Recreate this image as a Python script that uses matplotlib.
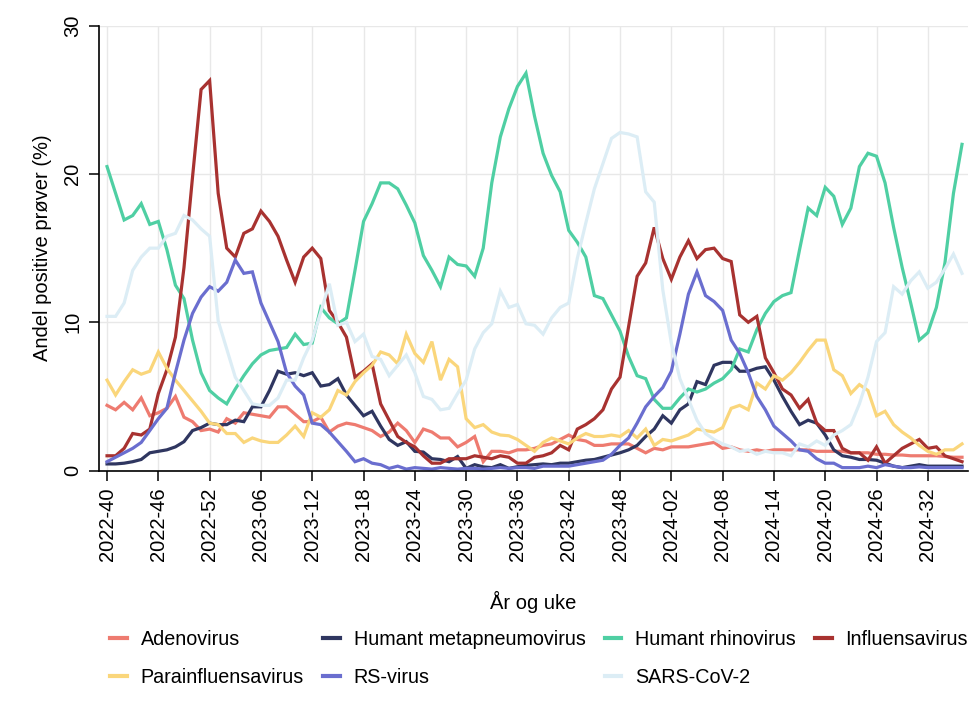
import numpy as np
import matplotlib
matplotlib.use("Agg")
import matplotlib.pyplot as plt
from matplotlib.lines import Line2D

plt.rcParams['font.family'] = ['Liberation Sans', 'DejaVu Sans']
plt.rcParams['font.size'] = 14.5

# ISO weeks 2022-40 .. 2024-36
weeks = ([f"2022-{w:02d}" for w in range(40, 53)]
         + [f"2023-{w:02d}" for w in range(1, 53)]
         + [f"2024-{w:02d}" for w in range(1, 37)])

tick_labels = ["2022-40", "2022-46", "2022-52", "2023-06", "2023-12", "2023-18",
               "2023-24", "2023-30", "2023-36", "2023-42", "2023-48", "2024-02",
               "2024-08", "2024-14", "2024-20", "2024-26", "2024-32"]

adenovirus = [4.4, 4.1, 4.6, 4.1, 4.9, 3.7, 3.9, 4.2, 5.0, 3.6,
              3.3, 2.7, 2.8, 2.6, 3.5, 3.2, 3.9, 3.8, 3.7, 3.6,
              4.3, 4.3, 3.8, 3.3, 3.3, 3.6, 2.6, 3.0, 3.2, 3.1,
              2.9, 2.7, 2.3, 2.6, 3.2, 2.7, 1.9, 2.8, 2.6, 2.2,
              2.2, 1.6, 1.9, 2.3, 0.6, 1.3, 1.3, 1.2, 1.4, 1.4,
              1.5, 1.7, 1.8, 2.1, 2.4, 2.1, 2.0, 1.7, 1.7, 1.8,
              1.8, 1.8, 1.5, 1.2, 1.5, 1.4, 1.6, 1.6, 1.6, 1.7,
              1.8, 1.9, 1.5, 1.6, 1.4, 1.3, 1.4, 1.3, 1.4, 1.4,
              1.4, 1.4, 1.4, 1.3, 1.3, 1.3, 1.3, 1.2, 1.2, 1.2,
              1.1, 1.1, 1.05, 1.05, 1.0, 1.0, 1.0, 1.0, 0.95, 0.9,
              0.9]

metapneumo = [0.45, 0.45, 0.5, 0.6, 0.75, 1.2, 1.3, 1.4, 1.6, 1.95,
              2.7, 2.9, 3.2, 3.1, 3.1, 3.4, 3.3, 4.3, 4.3, 5.4,
              6.7, 6.5, 6.6, 6.4, 6.6, 5.7, 5.8, 6.2, 5.1, 4.4,
              3.7, 4.0, 3.0, 2.1, 1.7, 1.95, 1.3, 1.25, 0.8, 0.75,
              0.6, 0.95, 0.15, 0.4, 0.25, 0.2, 0.4, 0.15, 0.26, 0.35,
              0.4, 0.45, 0.4, 0.5, 0.5, 0.6, 0.7, 0.75, 0.9, 1.05,
              1.2, 1.4, 1.7, 2.3, 2.8, 3.7, 3.2, 4.1, 4.5, 6.0,
              5.8, 7.1, 7.3, 7.3, 6.7, 6.7, 6.9, 7.0, 6.1, 5.0,
              4.0, 3.1, 3.4, 3.2, 2.4, 1.4, 1.0, 0.9, 0.75, 0.75,
              0.7, 0.5, 0.3, 0.2, 0.3, 0.4, 0.3, 0.3, 0.3, 0.3,
              0.3]

rhinovirus = [20.5, 18.7, 16.9, 17.2, 18.0, 16.6, 16.8, 14.9, 12.5, 11.6,
              8.8, 6.6, 5.4, 4.9, 4.5, 5.5, 6.4, 7.2, 7.8, 8.1,
              8.2, 8.3, 9.2, 8.5, 8.6, 11.0, 10.3, 9.9, 10.3, 13.5,
              16.8, 18.0, 19.4, 19.4, 19.0, 17.9, 16.7, 14.5, 13.5, 12.4,
              14.4, 13.9, 13.8, 13.1, 15.0, 19.4, 22.5, 24.4, 25.9, 26.8,
              23.9, 21.4, 19.9, 18.8, 16.2, 15.4, 14.4, 11.8, 11.6, 10.5,
              9.4, 7.7, 6.4, 6.2, 4.8, 4.2, 4.2, 4.9, 5.5, 5.3,
              5.5, 5.9, 6.2, 6.8, 8.2, 8.0, 9.5, 10.6, 11.4, 11.8,
              12.0, 14.9, 17.7, 17.2, 19.1, 18.5, 16.6, 17.7, 20.5, 21.4,
              21.2, 19.4, 16.4, 13.7, 11.3, 8.8, 9.3, 11.0, 14.0, 18.7,
              22.0]

influensa = [1.0, 1.0, 1.5, 2.5, 2.4, 2.8, 5.2, 6.8, 9.0, 13.7,
             19.8, 25.7, 26.3, 18.7, 15.0, 14.4, 16.0, 16.3, 17.5, 16.8,
             15.8, 14.2, 12.7, 14.4, 15.0, 14.3, 10.8, 10.0, 9.0, 6.3,
             6.7, 7.2, 4.5, 3.4, 2.3, 1.9, 1.6, 1.0, 0.5, 0.5,
             0.8, 0.8, 0.8, 1.0, 0.9, 0.8, 1.0, 0.9, 0.5, 0.5,
             0.9, 1.0, 1.2, 1.7, 1.4, 2.8, 3.1, 3.5, 4.1, 5.5,
             6.3, 9.7, 13.1, 14.0, 16.4, 14.3, 12.9, 14.4, 15.5, 14.3,
             14.9, 15.0, 14.3, 14.1, 10.5, 10.0, 10.4, 7.6, 6.6, 5.5,
             5.1, 4.2, 4.8, 3.2, 2.7, 2.7, 1.5, 1.2, 1.2, 0.7,
             1.6, 0.5, 1.0, 1.5, 1.8, 2.1, 1.5, 1.6, 1.0, 0.8,
             0.6]

parainfluensa = [6.1, 5.1, 6.0, 6.8, 6.5, 6.7, 8.0, 6.9, 6.1, 5.4,
                 4.7, 4.0, 3.2, 3.1, 2.5, 2.5, 1.9, 2.2, 2.0, 1.9,
                 1.9, 2.4, 3.0, 2.3, 3.9, 3.6, 4.1, 5.4, 5.1, 6.0,
                 6.6, 7.1, 8.0, 7.8, 7.2, 9.2, 7.9, 7.3, 8.7, 6.1,
                 7.5, 7.0, 3.5, 2.9, 3.1, 2.6, 2.4, 2.35, 2.1, 1.7,
                 1.3, 1.9, 2.2, 2.0, 1.8, 2.2, 2.5, 2.3, 2.3, 2.4,
                 2.3, 2.7, 2.2, 2.8, 1.7, 2.1, 2.0, 2.2, 2.4, 2.8,
                 2.7, 2.6, 2.9, 4.2, 4.4, 4.1, 5.9, 5.5, 6.4, 6.1,
                 6.6, 7.3, 8.1, 8.8, 8.8, 6.8, 6.4, 5.2, 5.8, 5.4,
                 3.7, 4.0, 3.1, 2.6, 2.2, 1.7, 1.3, 1.1, 1.4, 1.4,
                 1.8]

rs_virus = [0.6, 0.9, 1.2, 1.5, 1.9, 2.7, 3.5, 4.2, 6.6, 8.8,
            10.6, 11.7, 12.4, 12.1, 12.7, 14.2, 13.3, 13.4, 11.3, 10.0,
            8.7, 6.6, 5.7, 5.1, 3.2, 3.1, 2.6, 1.95, 1.3, 0.6,
            0.8, 0.5, 0.4, 0.15, 0.3, 0.1, 0.2, 0.15, 0.1, 0.2,
            0.15, 0.1, 0.15, 0.15, 0.1, 0.15, 0.2, 0.15, 0.2, 0.2,
            0.15, 0.3, 0.3, 0.3, 0.3, 0.4, 0.5, 0.6, 0.7, 1.1,
            1.7, 2.2, 3.2, 4.3, 5.0, 5.6, 6.7, 9.2, 11.9, 13.4,
            11.8, 11.4, 10.8, 8.8, 7.9, 6.6, 5.0, 4.1, 3.0, 2.5,
            2.0, 1.4, 1.3, 0.8, 0.5, 0.5, 0.2, 0.2, 0.2, 0.3,
            0.2, 0.4, 0.3, 0.2, 0.2, 0.25, 0.2, 0.2, 0.2, 0.2,
            0.2]

sars_cov2 = [10.4, 10.4, 11.3, 13.5, 14.4, 15.0, 15.0, 15.8, 16.0, 17.2,
             16.9, 16.3, 15.8, 10.1, 8.2, 6.3, 5.4, 4.5, 4.4, 4.4,
             4.9, 6.1, 6.1, 7.6, 8.8, 10.7, 12.6, 9.8, 10.0, 8.7,
             9.2, 7.7, 7.5, 6.4, 7.1, 7.8, 6.6, 5.0, 4.8, 4.1,
             4.2, 5.2, 6.1, 8.2, 9.3, 9.9, 12.1, 11.0, 11.2, 9.9,
             9.8, 9.2, 10.3, 11.0, 11.3, 14.3, 16.7, 19.0, 20.7, 22.4,
             22.8, 22.7, 22.5, 18.8, 18.1, 12.2, 8.6, 6.2, 4.8, 3.4,
             2.5, 2.1, 1.8, 1.6, 1.3, 1.4, 1.1, 1.3, 1.2, 1.2,
             1.0, 1.8, 1.6, 2.0, 1.7, 2.4, 2.7, 3.1, 4.5, 6.3,
             8.7, 9.3, 12.4, 11.9, 12.8, 13.4, 12.3, 12.7, 13.6, 14.6,
             13.3]

series = [
    ("Adenovirus", adenovirus, "#ee7b70"),
    ("Humant metapneumovirus", metapneumo, "#2f3660"),
    ("Humant rhinovirus", rhinovirus, "#4fcfa3"),
    ("Influensavirus", influensa, "#a83230"),
    ("Parainfluensavirus", parainfluensa, "#fad67b"),
    ("RS-virus", rs_virus, "#6a6ecf"),
    ("SARS-CoV-2", sars_cov2, "#dcedf5"),
]

x = np.arange(len(weeks))

fig = plt.figure(figsize=(9.7, 7.23), dpi=100)
ax = fig.add_axes([99 / 970, 1 - 470.6 / 723, 869 / 970, 444.9 / 723])

for name, vals, col in series:
    ax.plot(x, vals, color=col, lw=2.3, label=name, solid_joinstyle="miter")

tick_pos = [weeks.index(t) for t in tick_labels]
ax.set_xticks(tick_pos)
ax.set_xticklabels(tick_labels, rotation=90)
ax.set_yticks([0, 10, 20, 30])
for lab in ax.get_yticklabels():
    lab.set_rotation(90)
    lab.set_va("center")

ax.set_xlim(-0.94, 100.7)
ax.set_ylim(0, 30)
ax.grid(True, color="#e8e8e8", lw=1.0)
ax.set_axisbelow(True)
for s in ["top", "right"]:
    ax.spines[s].set_visible(False)
for s in ["left", "bottom"]:
    ax.spines[s].set_linewidth(1.2)
ax.tick_params(axis="both", length=7, width=1.1, pad=5, labelsize=14.5)

ax.set_xlabel("År og uke", fontsize=14.5)
ax.xaxis.set_label_coords(0.5, -0.27)
ax.set_ylabel("Andel positive prøver (%)", fontsize=14.5, labelpad=8)

# legend columns as in the original (column-wise fill)
order = [0, 4, 1, 5, 2, 6, 3]
handles = [Line2D([], [], color=series[k][2], lw=3) for k in order]
labels = [series[k][0] for k in order]
fig.legend(handles, labels, ncol=4, loc="upper left",
           bbox_to_anchor=(110 / 970, 1 - 630 / 723), frameon=False,
           handlelength=0.85, handletextpad=0.7, columnspacing=0.97,
           labelspacing=0.97, borderpad=0, borderaxespad=0, fontsize=14.2)

fig.savefig("out.png", dpi=100)
